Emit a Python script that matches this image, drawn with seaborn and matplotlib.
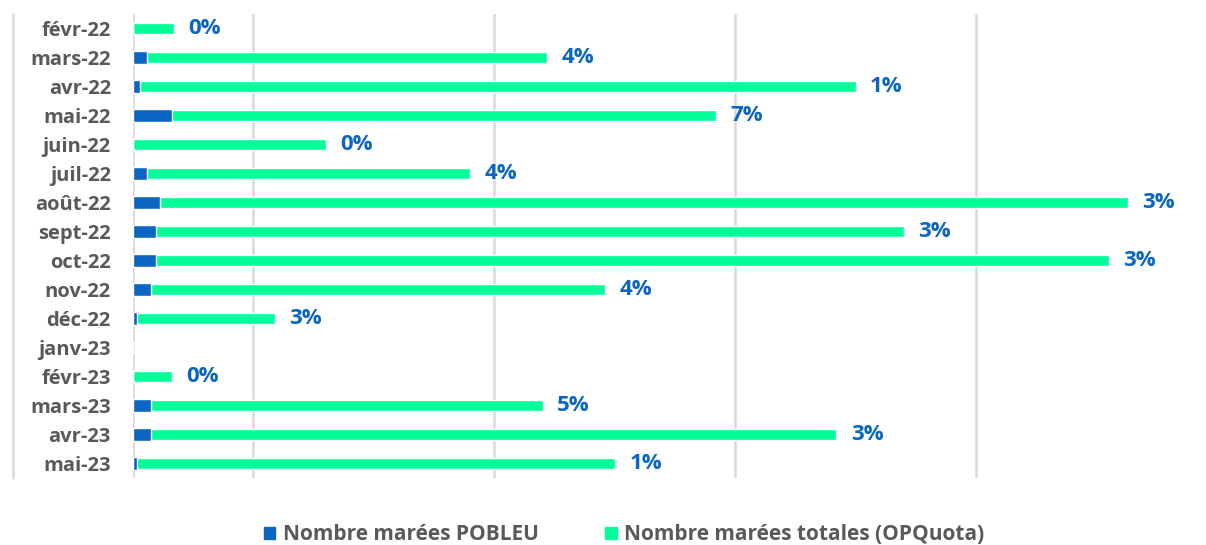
import matplotlib
matplotlib.use("Agg")
import matplotlib.pyplot as plt
import seaborn as sns
import pandas as pd
from matplotlib.patches import Patch

# données
mois = ['févr-22', 'mars-22', 'avr-22', 'mai-22', 'juin-22', 'juil-22', 'août-22',
        'sept-22', 'oct-22', 'nov-22', 'déc-22', 'janv-23', 'févr-23', 'mars-23',
        'avr-23', 'mai-23']
marees_totales = [17, 172, 300, 242, 80, 140, 413, 320, 405, 196, 59, 0, 16, 170, 292, 200]
marees_pobleu = [0, 6, 3, 16, 0, 6, 11, 9.5, 9.5, 7.5, 1.7, 0, 0, 7.5, 7.5, 1.7]
etiquettes = ['0%', '4%', '1%', '7%', '0%', '4%', '3%', '3%', '3%', '4%', '3%', '', '0%',
              '5%', '3%', '1%']

vert = '#00ff99'
bleu = '#0a66c2'
gris = '#595959'

df = pd.DataFrame({'mois': mois, 'total': marees_totales, 'pobleu': marees_pobleu})

sns.set_style('white')
plt.rcParams['font.family'] = ['Open Sans', 'DejaVu Sans']

fig = plt.figure(figsize=(12.06, 5.45), dpi=100)
ax = fig.add_axes([133 / 1206, 1 - 478 / 545, (1193 - 133) / 1206, (478 - 14) / 545])

sns.barplot(data=df, x='total', y='mois', color=vert, width=0.38, saturation=1, ax=ax)
sns.barplot(data=df, x='pobleu', y='mois', color=bleu, width=0.42, saturation=1, ax=ax)

for i, (v, lab) in enumerate(zip(marees_totales, etiquettes)):
    if lab:
        ax.text(v + 6, i, lab, va='center', ha='left', color=bleu,
                fontsize=16, fontweight='bold')

ax.set_xlim(0, 440)
ax.set_ylim(15.5, -0.5)
for g in [0, 50, 150, 250, 350]:
    ax.axvline(g, color='#d9d9d9', lw=1.8, zorder=0)
ax.axvline(-50, color='#d9d9d9', lw=1.8, zorder=0, clip_on=False)

ax.set_xticks([])
ax.set_xlabel('')
ax.set_ylabel('')
ax.tick_params(axis='y', length=0, pad=16, labelsize=14.5, labelcolor=gris)
for t in ax.get_yticklabels():
    t.set_fontweight('bold')
for s in ax.spines.values():
    s.set_visible(False)

handles = [Patch(color=bleu, label='Nombre marées POBLEU'),
           Patch(color=vert, label='Nombre marées totales (OPQuota)')]
fig.legend(handles=handles, loc='center', bbox_to_anchor=(624 / 1206, 1 - 535 / 545),
           ncol=2, frameon=False, handlelength=0.55, handleheight=0.55, handletextpad=0.35,
           columnspacing=3.2, prop={'size': 15, 'weight': 'bold'}, labelcolor=gris)

fig.savefig('out.png', dpi=100)
